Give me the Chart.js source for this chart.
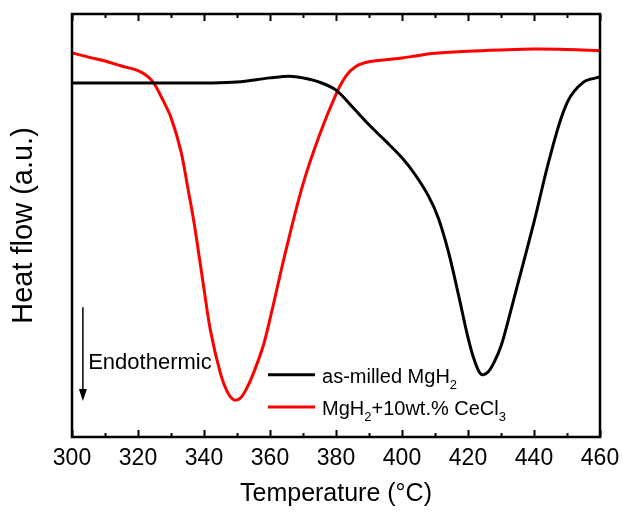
<!DOCTYPE html>
<html>
<head>
<meta charset="utf-8">
<script src="https://cdn.jsdelivr.net/npm/chart.js@4.4.1/dist/chart.umd.min.js"></script>
<style>
  html, body { margin: 0; padding: 0; background: #fff; }
</style>
</head>
<body>
<canvas id="dsc" width="622" height="515"></canvas>
<script>
// DSC curves (heat flow in arbitrary units)
const tempMilled = [300, 310, 320, 330, 340, 350, 360, 366, 370, 375, 380, 385, 390, 395, 400, 404, 408, 411, 414, 417, 420, 422, 424, 426, 428, 430, 432, 435, 440, 445, 450, 455, 460];
const heatMilled = [83.7, 83.7, 83.7, 83.7, 83.7, 83.9, 84.9, 85.3, 84.9, 83.9, 82.0, 78.0, 73.8, 70.0, 66.0, 62.0, 57.0, 51.8, 44.0, 34.0, 23.5, 18.0, 14.8, 15.3, 17.8, 21.5, 27.0, 35.9, 50.8, 66.7, 79.0, 83.9, 85.1];

const tempCeCl3 = [300, 305, 310, 315, 320, 323, 325, 327, 330, 333, 335, 337, 340, 342, 345, 347, 349, 351, 353, 355, 358, 360, 365, 370, 375, 380, 383, 386, 390, 395, 400, 405, 410, 420, 430, 440, 450, 460];
const heatCeCl3 = [90.8, 89.8, 88.9, 87.7, 86.6, 85.2, 83.4, 80.5, 75.5, 67.6, 59.3, 50.6, 35.0, 25.0, 15.0, 10.8, 8.8, 9.2, 11.6, 15.1, 21.7, 27.9, 44.7, 59.8, 71.4, 81.0, 85.3, 87.6, 88.7, 89.2, 89.6, 90.2, 90.7, 91.2, 91.5, 91.7, 91.6, 91.3];

const xMajorTicks = [300, 320, 340, 360, 380, 400, 420, 440, 460];

const seriesNames = ['as-milled MgH', 'MgH'];

const toPoints = (xs, ys) => xs.map((x, i) => ({ x: x, y: ys[i] }));

// frame with inward ticks on bottom and top
const framePlugin = {
  id: 'frame',
  afterDraw(chart) {
    const { ctx, chartArea: { left, right, top, bottom }, scales: { x } } = chart;
    ctx.save();
    ctx.strokeStyle = '#000';
    ctx.lineWidth = 2.5;
    ctx.strokeRect(left, top, right - left, bottom - top);
    ctx.lineWidth = 2;
    xMajorTicks.forEach((v, i) => {
      const marks = [[v, 7]];
      if (i < xMajorTicks.length - 1) marks.push([(v + xMajorTicks[i + 1]) / 2, 4]);
      marks.forEach(([val, len]) => {
        const px = Math.round(x.getPixelForValue(val)) + 0.5;
        ctx.beginPath();
        ctx.moveTo(px, bottom); ctx.lineTo(px, bottom - len);
        ctx.moveTo(px, top); ctx.lineTo(px, top + len);
        ctx.stroke();
      });
    });
    ctx.restore();
  }
};

// "Endothermic" arrow and legend with subscripts
const notesPlugin = {
  id: 'notes',
  afterDraw(chart) {
    const { ctx, scales: { x, y } } = chart;
    ctx.save();
    // arrow
    const ax = x.getPixelForValue(303.3);
    const ay0 = y.getPixelForValue(30.7);
    const ay1 = y.getPixelForValue(8.5);
    ctx.strokeStyle = '#000';
    ctx.fillStyle = '#000';
    ctx.lineWidth = 1.5;
    ctx.beginPath();
    ctx.moveTo(ax, ay0); ctx.lineTo(ax, ay1 - 10);
    ctx.stroke();
    ctx.beginPath();
    ctx.moveTo(ax - 4, ay1 - 12); ctx.lineTo(ax + 4, ay1 - 12); ctx.lineTo(ax, ay1); ctx.closePath();
    ctx.fill();
    ctx.font = '22px "Liberation Sans", Arial, sans-serif';
    ctx.textBaseline = 'middle';
    ctx.fillText('Endothermic', x.getPixelForValue(304.9), y.getPixelForValue(17.5));

    // legend
    const ds = chart.data.datasets;
    const lx = x.getPixelForValue(359.4);
    const rows = [y.getPixelForValue(14.7), y.getPixelForValue(7.1)];
    const big = '20px "Liberation Sans", Arial, sans-serif';
    const small = '13px "Liberation Sans", Arial, sans-serif';
    ctx.textBaseline = 'alphabetic';
    rows.forEach((ry, i) => {
      ctx.strokeStyle = ds[i].borderColor;
      ctx.lineWidth = 3;
      ctx.beginPath();
      ctx.moveTo(lx, ry); ctx.lineTo(lx + 47, ry);
      ctx.stroke();
      const base = ry + 8;
      let tx = lx + 54;
      ctx.fillStyle = '#000';
      const parts = i === 0
        ? [[seriesNames[0], big, 0], ['2', small, 6]]
        : [[seriesNames[1], big, 0], ['2', small, 6], ['+10wt.% CeCl', big, 0], ['3', small, 6]];
      parts.forEach(([t, f, dy]) => {
        ctx.font = f;
        ctx.fillText(t, tx, base + dy);
        tx += ctx.measureText(t).width;
      });
    });
    ctx.restore();
  }
};

new Chart(document.getElementById('dsc'), {
  type: 'line',
  data: {
    datasets: [
      {
        label: 'as-milled MgH2',
        data: toPoints(tempMilled, heatMilled),
        borderColor: '#000000',
        borderWidth: 3,
        pointRadius: 0,
        tension: 0.35
      },
      {
        label: 'MgH2+10wt.% CeCl3',
        data: toPoints(tempCeCl3, heatCeCl3),
        borderColor: '#ff0000',
        borderWidth: 3,
        pointRadius: 0,
        tension: 0.35
      }
    ]
  },
  options: {
    responsive: false,
    animation: false,
    devicePixelRatio: 1,
    layout: { padding: { top: 14, right: 22, left: 0, bottom: 0 } },
    plugins: {
      legend: { display: false },
      tooltip: { enabled: false }
    },
    scales: {
      x: {
        type: 'linear',
        min: 300,
        max: 460,
        grid: { display: false, drawTicks: false },
        border: { display: false },
        afterBuildTicks: (scale) => { scale.ticks = xMajorTicks.map(v => ({ value: v })); },
        ticks: {
          color: '#000',
          padding: 8,
          maxRotation: 0,
          font: { family: '"Liberation Sans", Arial, sans-serif', size: 23 }
        },
        title: {
          display: true,
          text: 'Temperature (\u00B0C)',
          color: '#000',
          padding: { top: 0, bottom: 6 },
          font: { family: '"Liberation Sans", Arial, sans-serif', size: 25 }
        },
        afterFit: (scale) => {
          scale.height = 78;
          scale.paddingLeft = 0;
          scale.paddingRight = 0;
        }
      },
      y: {
        min: 0,
        max: 100,
        grid: { display: false, drawTicks: false },
        border: { display: false },
        ticks: { display: false },
        title: {
          display: true,
          text: 'Heat flow (a.u.)',
          color: '#000',
          padding: { top: 7, bottom: 0 },
          font: { family: '"Liberation Sans", Arial, sans-serif', size: 29 }
        },
        afterFit: (scale) => { scale.width = 72; }
      }
    }
  },
  plugins: [framePlugin, notesPlugin]
});
</script>
</body>
</html>
